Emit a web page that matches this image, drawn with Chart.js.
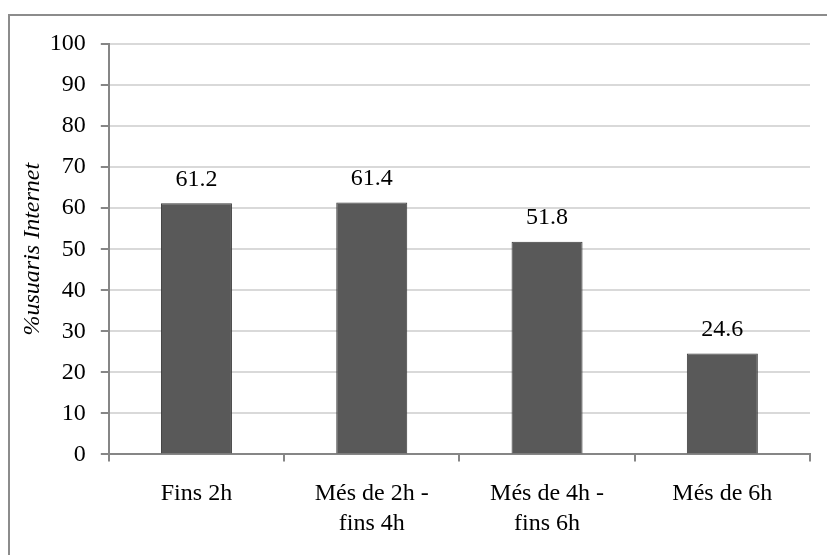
<!DOCTYPE html>
<html>
<head>
<meta charset="utf-8">
<script src="https://cdn.jsdelivr.net/npm/chart.js@4/dist/chart.umd.min.js"></script>
<style>
  html, body { margin: 0; padding: 0; background: #fff; overflow: hidden; }
  #wrap { position: relative; width: 827px; height: 555px; }
  #frame {
    position: absolute; left: 8px; top: 14px;
    width: 900px; height: 700px;
    border: 2px solid #8c8c8c;
  }
  #chart { position: absolute; left: 0; top: 0; }
</style>
</head>
<body>
<div id="wrap">
  <div id="frame"></div>
  <canvas id="chart" width="827" height="555"></canvas>
</div>
<script>
// Dades del gràfic
const categories = [
    ['Fins 2h'],
    ['Més de 2h -', 'fins 4h'],
    ['Més de 4h -', 'fins 6h'],
    ['Més de 6h']
];
const values = [61.2, 61.4, 51.8, 24.6];
const yTicks = [0, 10, 20, 30, 40, 50, 60, 70, 80, 90, 100];

const FONT = '"Liberation Serif", "Times New Roman", serif';

// Etiquetes de valor sobre cada barra
const valueLabels = {
    id: 'valueLabels',
    afterDatasetsDraw(chart) {
        const ctx = chart.ctx;
        const meta = chart.getDatasetMeta(0);
        ctx.save();
        ctx.font = '24px ' + FONT;
        ctx.fillStyle = '#000';
        ctx.textAlign = 'center';
        ctx.textBaseline = 'middle';
        meta.data.forEach((bar, i) => {
            ctx.fillText(values[i].toFixed(1), bar.x, bar.y - 24);
        });
        ctx.restore();
    }
};

new Chart(document.getElementById('chart'), {
    type: 'bar',
    data: {
        labels: categories,
        datasets: [{
            data: values,
            backgroundColor: '#595959',
            borderColor: '#3c3c3c',
            borderWidth: 1,
            categoryPercentage: 1,
            barPercentage: 0.405
        }]
    },
    options: {
        responsive: false,
        animation: false,
        layout: { padding: { left: 10, right: 17, top: 44, bottom: -1 } },
        plugins: {
            legend: { display: false },
            tooltip: { enabled: false }
        },
        scales: {
            y: {
                min: 0,
                max: 100,
                afterBuildTicks(axis) {
                    axis.ticks = yTicks.map(v => ({ value: v }));
                },
                title: {
                    display: true,
                    text: '%usuaris Internet',
                    color: '#000',
                    font: { family: FONT, size: 24, style: 'italic' },
                    // el padding dels ticks es compta dues vegades, es compensa aquí
                    padding: { top: 8, bottom: -12 }
                },
                ticks: {
                    color: '#000',
                    font: { family: FONT, size: 24 },
                    padding: 15
                },
                grid: {
                    color: '#d9d9d9',
                    lineWidth: 2,
                    tickColor: '#868686',
                    tickLength: 8
                },
                border: { color: '#868686', width: 2 }
            },
            x: {
                ticks: {
                    color: '#000',
                    font: { family: FONT, size: 24, lineHeight: 1.22 },
                    padding: 18,
                    maxRotation: 0,
                    autoSkip: false
                },
                grid: {
                    drawOnChartArea: false,
                    color: '#868686',
                    lineWidth: 2,
                    tickLength: 7
                },
                border: { color: '#868686', width: 2 }
            }
        }
    },
    plugins: [valueLabels]
});
</script>
</body>
</html>
